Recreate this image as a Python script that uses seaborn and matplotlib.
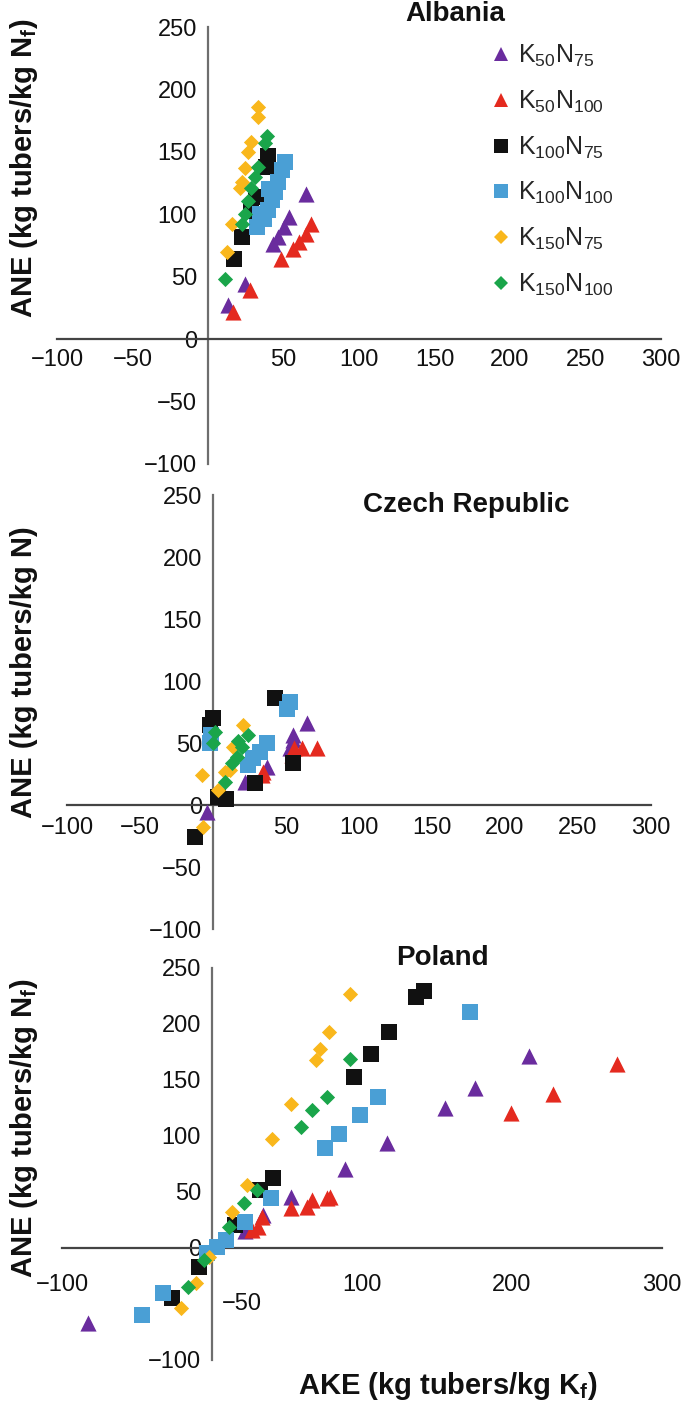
import matplotlib
matplotlib.use("Agg")
import matplotlib.pyplot as plt
import seaborn as sns
import pandas as pd
from matplotlib.lines import Line2D
from matplotlib.ticker import FixedFormatter, FixedLocator

sns.set_style("white")
plt.rcParams['font.family'] = ['Liberation Sans', 'DejaVu Sans']
plt.rcParams['mathtext.fontset'] = 'custom'
plt.rcParams['mathtext.rm'] = 'Liberation Sans'
plt.rcParams['mathtext.it'] = 'Liberation Sans:italic'
plt.rcParams['mathtext.bf'] = 'Liberation Sans:bold'

# ---------------- data ----------------
treatments = ['K50N75', 'K50N100', 'K100N75', 'K100N100', 'K150N75', 'K150N100']
legend_labels = [r'$\mathregular{K_{50}N_{75}}$', r'$\mathregular{K_{50}N_{100}}$',
                 r'$\mathregular{K_{100}N_{75}}$', r'$\mathregular{K_{100}N_{100}}$',
                 r'$\mathregular{K_{150}N_{75}}$', r'$\mathregular{K_{150}N_{100}}$']
countries = ['Albania', 'Czech Republic', 'Poland']

alb_ake = {
    'K50N75':   [64.8, 53.9, 50.6, 46.2, 43.0, 24.4, 13.4],
    'K50N100':  [68.0, 64.8, 60.4, 56.0, 48.4, 27.7, 16.7],
    'K100N75':  [39.7, 38.6, 32.0, 28.7, 22.2, 17.4],
    'K100N100': [51.0, 48.9, 46.2, 44.5, 42.3, 39.7, 37.0, 32.7, 40.1, 34.2],
    'K150N75':  [33.1, 33.1, 28.3, 26.6, 24.4, 22.2, 21.1, 15.6, 12.3],
    'K150N100': [39.2, 37.9, 33.1, 30.9, 28.7, 26.6, 24.4, 22.2, 11.3],
}
alb_ane = {
    'K50N75':   [116.6, 97.8, 89.8, 81.8, 76.5, 44.3, 27.0],
    'K50N100':  [92.5, 84.5, 77.8, 72.4, 64.4, 39.0, 21.5],
    'K100N75':  [147, 138, 114, 103, 82, 64],
    'K100N100': [142.0, 135.3, 126.0, 117.9, 111.2, 103.2, 96.5, 90.0, 120.6, 100.5],
    'K150N75':  [186, 178, 158, 150, 137, 126, 121, 92, 70],
    'K150N100': [163, 157, 138, 130, 121, 111, 100.5, 92, 48],
}
cze_ake = {
    'K50N75':   [64.2, 55.0, 55.0, 52.7, 36.8, 21.9, -4.3],
    'K50N100':  [71.0, 60.7, 53.9, 55.5, 34.5, 33.3],
    'K100N75':  [42.5, 0.2, -2.0, 3.6, 8.9, 28.8, 54.6, -12.3],
    'K100N100': [52.7, 50.5, 36.8, 32.2, 27.6, 24.2, -2.0, -1.3],
    'K150N75':  [20.8, 13.9, -7.8, 8.2, 3.6, -6.6, 11.6],
    'K150N100': [1.4, 0.2, 24.2, 19.6, 16.2, 12.8, 8.2, 17.4],
}
cze_ane = {
    'K50N75':   [65.9, 56.5, 52.5, 45.7, 31.0, 18.8, -5.4],
    'K50N100':  [45.7, 45.7, 40.3, 46.0, 26.9, 24.2],
    'K100N75':  [86, 70, 64.5, 6.7, 5.0, 17.5, 33.6, -25.6],
    'K100N100': [83, 77.8, 49.8, 43, 37.6, 32, 49.8, 56.5],
    'K150N75':  [64.5, 47, 24.2, 26.9, 12, -17.5, 28],
    'K150N100': [59, 49.8, 56.5, 47, 39, 33.6, 18.8, 52],
}
pol_ake = {
    'K50N75':   [211.1, 175.5, 155.0, 116.5, 88.7, 52.7, 34.0, 22.1, -82.7],
    'K50N100':  [270.2, 227.1, 199.1, 78.5, 76.7, 66.9, 63.6, 52.7, 33.0, 30.8, 26.4],
    'K100N75':  [141.2, 136.2, 117.8, 106.2, 94.6, 40.7, 31.9, 15.5, -8.5, -27.0],
    'K100N100': [171.8, 110.6, 98.6, 84.4, 75.6, 39.5, 22.1, 9.0, 3.5, -3.1, -32.6, -46.8],
    'K150N75':  [92.0, 77.8, 72.3, 69.0, 52.6, 40.0, 23.1, 13.3, -2.0, -10.7, -20.5],
    'K150N100': [92.0, 76.7, 66.9, 59.2, 29.7, 21.0, 11.1, -5.2, -16.2],
}
pol_ane = {
    'K50N75':   [171.4, 142.6, 124.7, 93.5, 70.3, 45.8, 29.5, 15.0, -67.0],
    'K50N100':  [164.3, 137.5, 120.3, 45.3, 44.4, 42.9, 36.9, 35.4, 28.0, 19.0, 16.0],
    'K100N75':  [229.7, 224.4, 193.0, 173.2, 153.0, 62.2, 51.8, 20.5, -16.7, -45.0],
    'K100N100': [210.4, 135.0, 118.8, 101.8, 89.0, 44.4, 23.5, 7.0, 1.2, -4.8, -40.5, -59.8],
    'K150N75':  [226.5, 192.6, 177.4, 167.9, 128.6, 97.0, 56.3, 32.4, -7.7, -31.5, -53.8],
    'K150N100': [168.8, 134.5, 123.2, 108.3, 51.8, 39.9, 19.0, -10.7, -34.5],
}

x_ticks_fine = [-100, -50, 0, 50, 100, 150, 200, 250, 300]
x_ticks_coarse = [-100, 0, 100, 200, 300]
y_ticks = [-100, -50, 0, 50, 100, 150, 200, 250]

# ---------------- style ----------------
colors = ['#6a2c9e', '#e42a1f', '#111111', '#4a9fd5', '#f9b71c', '#1aa54a']
markers = ['^', '^', 's', 's', 'D', 'D']
msizes = [135, 135, 118, 118, 60, 60]
leg_ms = [10.5, 10.5, 9.5, 9.5, 7.2, 7.2]

W, H = 685, 1409
fig = plt.figure(figsize=(W / 100, H / 100), dpi=100)


def rect(x0, x1, y_top, y_bot):
    return [x0 / W, 1 - y_bot / H, (x1 - x0) / W, (y_bot - y_top) / H]


def fmt(v):
    return ('\u2212' + str(-v)) if v < 0 else str(v)


panels = [
    (rect(57, 661, 27, 464), alb_ake, alb_ane, x_ticks_fine, 1),
    (rect(67, 651, 495, 929), cze_ake, cze_ane, x_ticks_fine, 3),
    (rect(62, 662, 968, 1360), pol_ake, pol_ane, x_ticks_coarse, 13),
]

axes = []
for i, (r, xs, ys, xt, xpad) in enumerate(panels):
    ax = fig.add_axes(r)
    ax.patch.set_alpha(0)
    for t, c, m, s in zip(treatments, colors, markers, msizes):
        df = pd.DataFrame({'AKE': xs[t], 'ANE': ys[t]})
        sns.scatterplot(data=df, x='AKE', y='ANE', marker=m, color=c, s=s,
                        linewidth=0, ax=ax, clip_on=False, zorder=3)
    ax.set_xlim(-100, 300)
    ax.set_ylim(-100, 250)
    for side in ['top', 'right']:
        ax.spines[side].set_visible(False)
    ax.spines['left'].set_position(('data', 0))
    ax.spines['bottom'].set_position(('data', 0))
    ax.spines['left'].set_color('#6e6e6e')
    ax.spines['bottom'].set_color('#444444')
    for side in ['left', 'bottom']:
        ax.spines[side].set_linewidth(1.6)
    ax.xaxis.set_major_locator(FixedLocator(xt))
    ax.xaxis.set_major_formatter(FixedFormatter(['' if v == 0 else fmt(v) for v in xt]))
    ylabs = [fmt(v) for v in y_ticks]
    if i == 2:
        ylabs[1] = ''
    ax.yaxis.set_major_locator(FixedLocator(y_ticks))
    ax.yaxis.set_major_formatter(FixedFormatter(ylabs))
    ax.tick_params(axis='both', direction='out', length=6, width=1.6,
                   labelsize=17, labelcolor='#111111')
    ax.tick_params(axis='x', color='#444444', pad=xpad)
    ax.tick_params(axis='y', color='#6e6e6e', pad=2)
    ax.set_xlabel('')
    ax.set_ylabel('')
    ax.grid(False)
    if i == 2:
        ax.annotate('\u221250', xy=(0, -50), xytext=(7, 0), textcoords='offset points',
                    ha='left', va='center', fontsize=17, color='#111111')
    axes.append(ax)

# titles
title_pos = [(455, 14), (466, 505), (442, 958)]
for name, (tx, ty) in zip(countries, title_pos):
    fig.text(tx / W, 1 - ty / H, name, ha='center', va='center',
             fontsize=20, fontweight='bold', color='#111111')

# y labels
ylab_txt = [r'ANE (kg tubers/kg N$_\mathbf{f}$)', 'ANE (kg tubers/kg N)',
            r'ANE (kg tubers/kg N$_\mathbf{f}$)']
ylab_y = [168, 672, 1128]
for txt, yy in zip(ylab_txt, ylab_y):
    fig.text(24 / W, 1 - yy / H, txt, rotation=90, ha='center', va='center',
             fontsize=21, fontweight='bold', color='#111111')

fig.text(448 / W, 1 - 1386 / H, r'AKE (kg tubers/kg K$_\mathbf{f}$)', ha='center',
         va='center', fontsize=21, fontweight='bold', color='#111111')

# legend
handles = [Line2D([], [], marker=m, color=c, linestyle='', markersize=ms, markeredgewidth=0)
           for m, c, ms in zip(markers, colors, leg_ms)]
axes[0].legend(handles, legend_labels, loc='upper left',
               bbox_to_anchor=(492 / W, 1 - 43 / H), bbox_transform=fig.transFigure,
               frameon=False, fontsize=18, handlelength=0.75, handletextpad=0.3,
               labelspacing=0.78, borderpad=0, borderaxespad=0)

fig.savefig('out.png', dpi=100)
